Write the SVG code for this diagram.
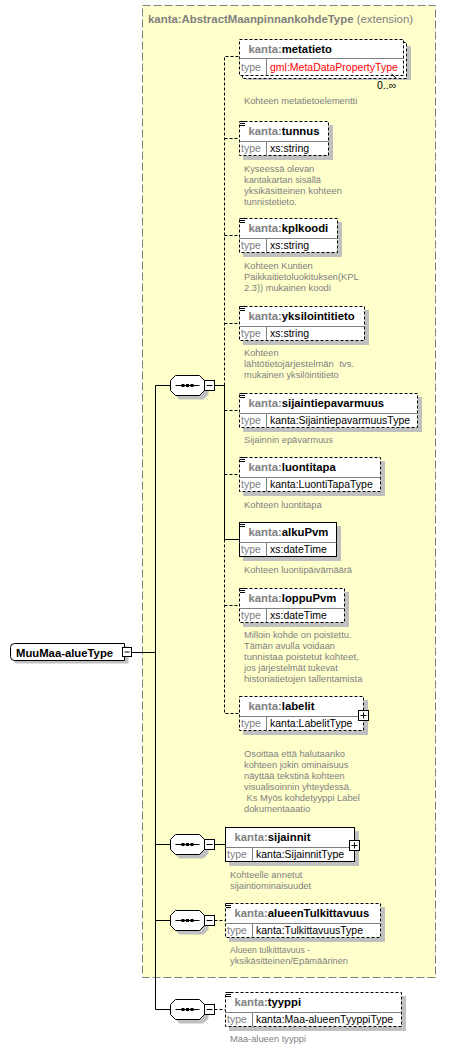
<svg xmlns="http://www.w3.org/2000/svg" width="464" height="1049" viewBox="0 0 464 1049">
<style>
text { font-family: "Liberation Sans", Arial, sans-serif; }
.ttl { font-size: 11.4px; font-weight: bold; fill: #808080; }
.ext { font-size: 11.4px; font-weight: normal; fill: #808080; }
.nm { font-size: 11.3px; font-weight: bold; fill: #000; }
.ns { fill: #808080; }
.tl { font-size: 10.5px; fill: #808080; }
.tv { font-size: 10.5px; fill: #000; }
.red { fill: #ff0000; }
.ds { font-size: 9.3px; fill: #808080; }
.occ { font-size: 10.5px; fill: #000; }
.bx { fill: #fff; stroke: #000; stroke-width: 1; }
.opt { stroke-dasharray: 3 2; }
.sh { fill: #c0c0c0; }
.sep { stroke: #808080; stroke-width: 1; fill: none; }
.ic { stroke: #000; stroke-width: 1; fill: none; }
.ln { fill: none; stroke: #000; stroke-width: 1; }
.dl { stroke-dasharray: 3 2; }
.ext-box { fill: #ffffcc; stroke: #808080; stroke-width: 1; stroke-dasharray: 8 3; }
</style>
<defs>
  <g id="seq">
    <polygon class="sh" points="9,-6 33,-6 38,-1 38,9 33,14 9,14 4,9 4,-1"/>
    <polygon class="bx" points="5,-10 29,-10 34,-5 34,5 29,10 5,10 0,5 0,-5"/>
    <line class="ln" x1="5" y1="0" x2="29" y2="0"/>
    <rect x="11" y="-1.5" width="3" height="3" fill="#000"/>
    <rect x="15.5" y="-1.5" width="3" height="3" fill="#000"/>
    <rect x="20" y="-1.5" width="3" height="3" fill="#000"/>
    <rect class="bx" x="34" y="-5" width="10" height="10"/>
    <line class="ln" x1="36" y1="0" x2="42" y2="0"/>
  </g>
  <g id="icon">
    <path class="ic" d="M1,0.5H6M1,2.5H6M1,4.5H6"/>
  </g>
</defs>

<g id="extension">
  <rect class="ext-box" x="142.5" y="5.5" width="293" height="972"/>
  <text x="148" y="23"><tspan class="ttl">kanta:AbstractMaanpinnankohdeType</tspan><tspan class="ext"> (extension)</tspan></text>
</g>

<g id="connectors">
  <path class="ln" d="M131.5,652.5H155.5"/>
  <path class="ln" d="M155.5,385.5V1009.5"/>
  <path class="ln" d="M155.5,385.5H170.5M155.5,844.5H170.5M155.5,920.5H170.5M155.5,1009.5H170.5"/>
  <path class="ln" d="M214.5,385.5H224.5"/>
  <path class="ln dl" d="M224.5,385.5V56.5H239M224.5,138.5H239M224.5,235.5H239M224.5,323.5H239M224.5,410.5H239M224.5,474.5H239"/>
  <path class="ln" d="M224.5,385.5V539.5H239"/>
  <path class="ln dl" d="M224.5,539.5V713.5H239M224.5,605.5H239"/>
  <path class="ln" d="M214.5,844.5H225"/>
  <path class="ln dl" d="M214.5,920.5H225"/>
  <path class="ln dl" d="M214.5,1009.5H225"/>
</g>

<g id="root">
  <path class="sh" d="M17.5,646.5H128.5V663.5H17.5Q13.5,663.5 13.5,659.5V650.5Q13.5,646.5 17.5,646.5Z"/>
  <path class="bx" d="M14.5,643.5H124.5V660.5H14.5Q10.5,660.5 10.5,656.5V647.5Q10.5,643.5 14.5,643.5Z"/>
  <text class="nm" x="16" y="656.5">MuuMaa-alueType</text>
  <rect class="bx" x="122.5" y="647.5" width="9" height="9"/>
  <line class="ln" x1="124.5" y1="652" x2="129.5" y2="652"/>
</g>

<g id="seq1"><use href="#seq" x="170.5" y="385.5"/></g>
<g id="seq2"><use href="#seq" x="170.5" y="844.5"/></g>
<g id="seq3"><use href="#seq" x="170.5" y="920.5"/></g>
<g id="seq4"><use href="#seq" x="170.5" y="1009.5"/></g>

<g id="metatieto" transform="translate(239,39)">
  <rect class="sh" x="7" y="7" width="165" height="34"/>
  <rect class="bx opt" x="3.5" y="3.5" width="164" height="36"/>
  <rect class="bx opt" x="0.5" y="0.5" width="164" height="36"/>
  <line class="sep" x1="0.5" y1="19.5" x2="164.5" y2="19.5"/>
  <line class="sep" x1="27.5" y1="19.5" x2="27.5" y2="36.5"/>
  <text class="nm" x="9.5" y="14"><tspan class="ns">kanta:</tspan>metatieto</text>
  <text class="tl" x="2" y="32">type</text>
  <text class="tv red" x="31" y="32">gml:MetaDataPropertyType</text>
  <line class="ln" x1="152.5" y1="35" x2="157" y2="39"/>
  <text class="occ" x="138" y="50">0..∞</text>
  <text class="ds" x="5" y="65" textLength="113.2" lengthAdjust="spacingAndGlyphs">Kohteen metatietoelementti</text>
</g>

<g id="tunnus" transform="translate(239,121)">
  <rect class="sh" x="4" y="4" width="90" height="35"/>
  <rect class="bx opt" x="0.5" y="0.5" width="89" height="34"/>
  <line class="sep" x1="0.5" y1="20.5" x2="89.5" y2="20.5"/>
  <line class="sep" x1="27.5" y1="20.5" x2="27.5" y2="34.5"/>
  <use href="#icon"/>
  <text class="nm" x="9.5" y="14"><tspan class="ns">kanta:</tspan>tunnus</text>
  <text class="tl" x="2" y="31">type</text>
  <text class="tv" x="31" y="31">xs:string</text>
  <text class="ds" x="5" y="50.5" textLength="70.3" lengthAdjust="spacingAndGlyphs">Kyseessä olevan</text>
  <text class="ds" x="5" y="61.5" textLength="77" lengthAdjust="spacingAndGlyphs">kantakartan sisällä</text>
  <text class="ds" x="5" y="72.5" textLength="98" lengthAdjust="spacingAndGlyphs">yksikäsitteinen kohteen</text>
  <text class="ds" x="5" y="83.5" textLength="52.7" lengthAdjust="spacingAndGlyphs">tunnistetieto.</text>
</g>

<g id="kplkoodi" transform="translate(239,218)">
  <rect class="sh" x="4" y="4" width="99" height="35"/>
  <rect class="bx opt" x="0.5" y="0.5" width="98" height="34"/>
  <line class="sep" x1="0.5" y1="20.5" x2="98.5" y2="20.5"/>
  <line class="sep" x1="27.5" y1="20.5" x2="27.5" y2="34.5"/>
  <use href="#icon"/>
  <text class="nm" x="9.5" y="14"><tspan class="ns">kanta:</tspan>kplkoodi</text>
  <text class="tl" x="2" y="31">type</text>
  <text class="tv" x="31" y="31">xs:string</text>
  <text class="ds" x="5" y="50.5" textLength="68.8" lengthAdjust="spacingAndGlyphs">Kohteen Kuntien</text>
  <text class="ds" x="5" y="61.5" textLength="114.7" lengthAdjust="spacingAndGlyphs">Paikkaitietoluokituksen(KPL</text>
  <text class="ds" x="5" y="72.5" textLength="86.8" lengthAdjust="spacingAndGlyphs">2.3)) mukainen koodi</text>
</g>

<g id="yksilointitieto" transform="translate(239,306)">
  <rect class="sh" x="4" y="4" width="126" height="35"/>
  <rect class="bx opt" x="0.5" y="0.5" width="125" height="34"/>
  <line class="sep" x1="0.5" y1="20.5" x2="125.5" y2="20.5"/>
  <line class="sep" x1="27.5" y1="20.5" x2="27.5" y2="34.5"/>
  <use href="#icon"/>
  <text class="nm" x="9.5" y="14"><tspan class="ns">kanta:</tspan>yksilointitieto</text>
  <text class="tl" x="2" y="31">type</text>
  <text class="tv" x="31" y="31">xs:string</text>
  <text class="ds" x="5" y="50" textLength="34.6" lengthAdjust="spacingAndGlyphs">Kohteen</text>
  <text class="ds" x="5" y="61" textLength="110" lengthAdjust="spacingAndGlyphs">lähtötietojärjestelmän&#160; tvs.</text>
  <text class="ds" x="5" y="72" textLength="94.7" lengthAdjust="spacingAndGlyphs">mukainen yksilöintitieto</text>
</g>

<g id="sijaintiepavarmuus" transform="translate(239,393)">
  <rect class="sh" x="4" y="4" width="179" height="35"/>
  <rect class="bx opt" x="0.5" y="0.5" width="178" height="34"/>
  <line class="sep" x1="0.5" y1="20.5" x2="178.5" y2="20.5"/>
  <line class="sep" x1="27.5" y1="20.5" x2="27.5" y2="34.5"/>
  <use href="#icon"/>
  <text class="nm" x="9.5" y="14"><tspan class="ns">kanta:</tspan>sijaintiepavarmuus</text>
  <text class="tl" x="2" y="31">type</text>
  <text class="tv" x="31" y="31">kanta:SijaintiepavarmuusType</text>
  <text class="ds" x="5" y="50" textLength="88.9" lengthAdjust="spacingAndGlyphs">Sijainnin epävarmuus</text>
</g>

<g id="luontitapa" transform="translate(239,457)">
  <rect class="sh" x="4" y="4" width="142" height="35"/>
  <rect class="bx opt" x="0.5" y="0.5" width="141" height="34"/>
  <line class="sep" x1="0.5" y1="20.5" x2="141.5" y2="20.5"/>
  <line class="sep" x1="27.5" y1="20.5" x2="27.5" y2="34.5"/>
  <use href="#icon"/>
  <text class="nm" x="9.5" y="14"><tspan class="ns">kanta:</tspan>luontitapa</text>
  <text class="tl" x="2" y="31">type</text>
  <text class="tv" x="31" y="31">kanta:LuontiTapaType</text>
  <text class="ds" x="5" y="50.5" textLength="77.6" lengthAdjust="spacingAndGlyphs">Kohteen luontitapa</text>
</g>

<g id="alkuPvm" transform="translate(239,522)">
  <rect class="sh" x="4" y="4" width="98" height="35"/>
  <rect class="bx" x="0.5" y="0.5" width="97" height="34"/>
  <line class="sep" x1="0.5" y1="20.5" x2="97.5" y2="20.5"/>
  <line class="sep" x1="27.5" y1="20.5" x2="27.5" y2="34.5"/>
  <use href="#icon"/>
  <text class="nm" x="9.5" y="14"><tspan class="ns">kanta:</tspan>alkuPvm</text>
  <text class="tl" x="2" y="31">type</text>
  <text class="tv" x="31" y="31">xs:dateTime</text>
  <text class="ds" x="5" y="50.5" textLength="108" lengthAdjust="spacingAndGlyphs">Kohteen luontipäivämäärä</text>
</g>

<g id="loppuPvm" transform="translate(239,588)">
  <rect class="sh" x="4" y="4" width="106" height="35"/>
  <rect class="bx opt" x="0.5" y="0.5" width="105" height="34"/>
  <line class="sep" x1="0.5" y1="20.5" x2="105.5" y2="20.5"/>
  <line class="sep" x1="27.5" y1="20.5" x2="27.5" y2="34.5"/>
  <use href="#icon"/>
  <text class="nm" x="9.5" y="14"><tspan class="ns">kanta:</tspan>loppuPvm</text>
  <text class="tl" x="2" y="31">type</text>
  <text class="tv" x="31" y="31">xs:dateTime</text>
  <text class="ds" x="5" y="49.5" textLength="107.5" lengthAdjust="spacingAndGlyphs">Milloin kohde on poistettu.</text>
  <text class="ds" x="5" y="60.5" textLength="91" lengthAdjust="spacingAndGlyphs">Tämän avulla voidaan</text>
  <text class="ds" x="5" y="71.5" textLength="114.9" lengthAdjust="spacingAndGlyphs">tunnistaa poistetut kohteet,</text>
  <text class="ds" x="5" y="82.5" textLength="93.7" lengthAdjust="spacingAndGlyphs">jos järjestelmät tukevat</text>
  <text class="ds" x="5" y="93.5" textLength="118.5" lengthAdjust="spacingAndGlyphs">historiatietojen tallentamista</text>
</g>

<g id="labelit" transform="translate(239,696)">
  <rect class="sh" x="4" y="4" width="125" height="35"/>
  <rect class="bx opt" x="0.5" y="0.5" width="124" height="34"/>
  <line class="sep" x1="0.5" y1="20.5" x2="124.5" y2="20.5"/>
  <line class="sep" x1="27.5" y1="20.5" x2="27.5" y2="34.5"/>
  <text class="nm" x="9.5" y="14"><tspan class="ns">kanta:</tspan>labelit</text>
  <text class="tl" x="2" y="31">type</text>
  <text class="tv" x="31" y="31">kanta:LabelitType</text>
  <rect class="bx" x="119.5" y="14.5" width="10" height="10"/>
  <path class="ln" d="M121.5,19.5H127.5M124.5,16.5V22.5"/>
  <text class="ds" x="5" y="60.5" textLength="101" lengthAdjust="spacingAndGlyphs">Osoittaa että halutaanko</text>
  <text class="ds" x="5" y="71.5" textLength="104.4" lengthAdjust="spacingAndGlyphs">kohteen jokin ominaisuus</text>
  <text class="ds" x="5" y="82.5" textLength="100.8" lengthAdjust="spacingAndGlyphs">näyttää tekstinä kohteen</text>
  <text class="ds" x="5" y="93.5" textLength="107.5" lengthAdjust="spacingAndGlyphs">visualisoinnin yhteydessä.</text>
  <text class="ds" x="5" y="104.5" textLength="115.8" lengthAdjust="spacingAndGlyphs">&#160;Ks Myös kohdetyyppi Label</text>
  <text class="ds" x="5" y="115.5" textLength="66.2" lengthAdjust="spacingAndGlyphs">dokumentaaatio</text>
</g>

<g id="sijainnit" transform="translate(225,827)">
  <rect class="sh" x="4" y="4" width="130" height="35"/>
  <rect class="bx" x="0.5" y="0.5" width="129" height="34"/>
  <line class="sep" x1="0.5" y1="20.5" x2="129.5" y2="20.5"/>
  <line class="sep" x1="27.5" y1="20.5" x2="27.5" y2="34.5"/>
  <text class="nm" x="9.5" y="14"><tspan class="ns">kanta:</tspan>sijainnit</text>
  <text class="tl" x="2" y="31">type</text>
  <text class="tv" x="31" y="31">kanta:SijainnitType</text>
  <rect class="bx" x="124.5" y="13.5" width="10" height="10"/>
  <path class="ln" d="M126.5,18.5H132.5M129.5,15.5V21.5"/>
  <text class="ds" x="5" y="50.5" textLength="72.4" lengthAdjust="spacingAndGlyphs">Kohteelle annetut</text>
  <text class="ds" x="5" y="61.5" textLength="81.1" lengthAdjust="spacingAndGlyphs">sijaintiominaisuudet</text>
</g>

<g id="alueenTulkittavuus" transform="translate(225,903)">
  <rect class="sh" x="4" y="4" width="156" height="35"/>
  <rect class="bx opt" x="0.5" y="0.5" width="155" height="34"/>
  <line class="sep" x1="0.5" y1="20.5" x2="155.5" y2="20.5"/>
  <line class="sep" x1="27.5" y1="20.5" x2="27.5" y2="34.5"/>
  <use href="#icon"/>
  <text class="nm" x="9.5" y="14"><tspan class="ns">kanta:</tspan>alueenTulkittavuus</text>
  <text class="tl" x="2" y="31">type</text>
  <text class="tv" x="31" y="31">kanta:TulkittavuusType</text>
  <text class="ds" x="5" y="50" textLength="80" lengthAdjust="spacingAndGlyphs">Alueen tulkitttavuus -</text>
  <text class="ds" x="5" y="61" textLength="118" lengthAdjust="spacingAndGlyphs">yksikäsitteinen/Epämäärinen</text>
</g>

<g id="tyyppi" transform="translate(225,992)">
  <rect class="sh" x="4" y="4" width="177" height="35"/>
  <rect class="bx opt" x="0.5" y="0.5" width="176" height="34"/>
  <line class="sep" x1="0.5" y1="20.5" x2="176.5" y2="20.5"/>
  <line class="sep" x1="27.5" y1="20.5" x2="27.5" y2="34.5"/>
  <use href="#icon"/>
  <text class="nm" x="9.5" y="14"><tspan class="ns">kanta:</tspan>tyyppi</text>
  <text class="tl" x="2" y="31">type</text>
  <text class="tv" x="31" y="31">kanta:Maa-alueenTyyppiType</text>
  <text class="ds" x="5" y="49.5" textLength="76" lengthAdjust="spacingAndGlyphs">Maa-alueen tyyppi</text>
</g>
</svg>
